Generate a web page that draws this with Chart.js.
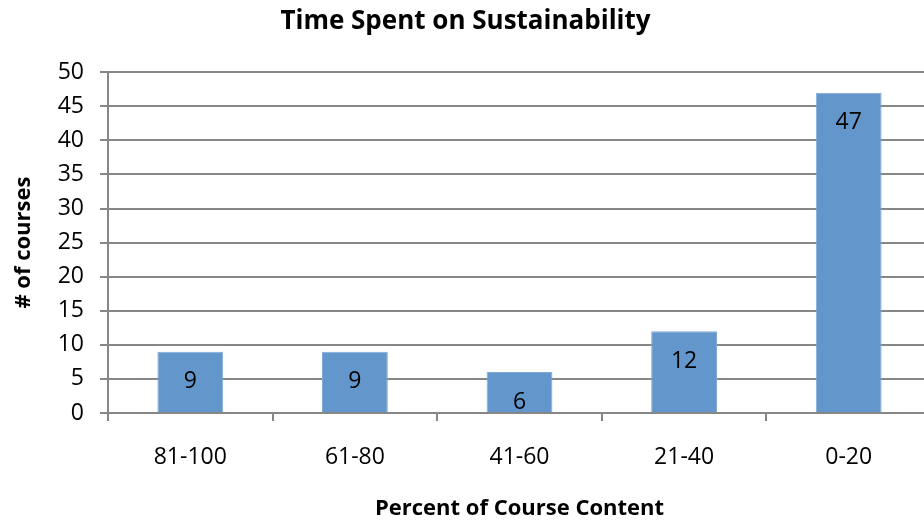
<!DOCTYPE html>
<html>
<head>
<meta charset="utf-8">
<script src="https://cdn.jsdelivr.net/npm/chart.js@4"></script>
<style>
  html, body { margin: 0; padding: 0; background: #fff; overflow: hidden; }
  #wrap { width: 931px; height: 523px; }
</style>
</head>
<body>
<div id="wrap"><canvas id="chart" width="931" height="523"></canvas></div>
<script>
const categories = ['81-100', '61-80', '41-60', '21-40', '0-20'];
const courses = [9, 9, 6, 12, 47];
const yTicks = [0, 5, 10, 15, 20, 25, 30, 35, 40, 45, 50];

const fontFamily = '"Open Sans", Lato, sans-serif';
const gridColor = '#878787';

// value labels sit inside the bar, near its top
const barLabels = {
  id: 'barLabels',
  afterDatasetsDraw(chart) {
    const ctx = chart.ctx;
    const meta = chart.getDatasetMeta(0);
    ctx.save();
    ctx.font = '23px ' + fontFamily;
    ctx.fillStyle = '#000';
    ctx.textAlign = 'center';
    ctx.textBaseline = 'middle';
    meta.data.forEach((bar, i) => {
      ctx.fillText(String(courses[i]), bar.x, bar.y + 30);
    });
    ctx.restore();
  }
};

new Chart(document.getElementById('chart'), {
  type: 'bar',
  data: {
    labels: categories,
    datasets: [{
      data: courses,
      backgroundColor: '#6397CB',
      borderColor: '#7FAAD6',
      borderWidth: 1,
      barPercentage: 0.4,
      categoryPercentage: 1
    }]
  },
  options: {
    responsive: false,
    animation: false,
    layout: { padding: { left: 0, right: 0, top: 0, bottom: 1 } },
    plugins: {
      legend: { display: false },
      tooltip: { enabled: false },
      title: {
        display: true,
        text: 'Time Spent on Sustainability',
        color: '#000',
        font: { family: fontFamily, size: 26, weight: 'bold' },
        padding: { top: 6, bottom: 35 }
      }
    },
    scales: {
      x: {
        grid: {
          offset: true,
          drawOnChartArea: false,
          color: gridColor,
          tickLength: 8,
          lineWidth: 2
        },
        border: { color: gridColor, width: 2 },
        ticks: {
          color: '#000',
          padding: 23,
          font: { family: fontFamily, size: 23 }
        },
        title: {
          display: true,
          text: 'Percent of Course Content',
          color: '#000',
          font: { family: fontFamily, size: 22, weight: 'bold' },
          padding: { top: 1, bottom: 0 }
        }
      },
      y: {
        min: 0,
        max: 50,
        afterBuildTicks(scale) {
          scale.ticks = yTicks.map(v => ({ value: v }));
        },
        afterFit(scale) { scale.width = 108; },
        grid: { color: gridColor, tickLength: 8, lineWidth: 2 },
        border: { color: gridColor, width: 2 },
        ticks: {
          color: '#000',
          padding: 16,
          font: { family: fontFamily, size: 23 }
        },
        title: {
          display: true,
          text: '# of courses',
          color: '#000',
          font: { family: fontFamily, size: 22, weight: 'bold' },
          padding: { top: 11, bottom: 4 }
        }
      }
    }
  },
  plugins: [barLabels]
});
</script>
</body>
</html>
